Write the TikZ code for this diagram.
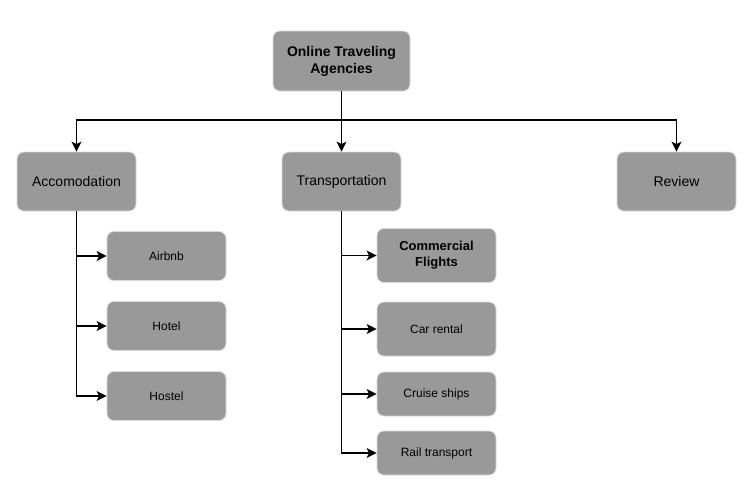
\documentclass[tikz,border=0pt]{standalone}
\usepackage{fontspec}
\setmainfont{Liberation Sans}
\usetikzlibrary{arrows.meta}
\begin{document}
\begin{tikzpicture}[x=1pt,y=-1pt,
  box/.style={draw=black!15,line width=0.8pt,fill=black!40,rounded corners=7pt,align=center,inner sep=0pt,text=black},
  big/.style={box,minimum width=119pt,minimum height=59pt,font=\fontsize{14}{16}\selectfont},
  small/.style={box,minimum width=119pt,font=\fontsize{12}{14}\selectfont},
  conn/.style={line width=1.8pt,-{Stealth[length=10pt,width=10pt,inset=2.5pt]}},
  line/.style={line width=1.8pt}]
\useasboundingbox (0,0) rectangle (748,496);
\node[big,minimum width=137pt,minimum height=60pt,font=\bfseries\fontsize{14}{17}\selectfont] (ota) at (341.5,61) {Online Traveling\\Agencies};
\path (ota.north) ++(0,-1) coordinate (otaN);
\node[big] (acc) at (76.5,181.5) {Accomodation};
\node[big] (tra) at (341.5,181.5) {Transportation};
\node[big] (rev) at (676.5,181.5) {Review};
\node[small,minimum height=49pt] (air) at (166.5,256) {Airbnb};
\node[small,minimum height=49pt] (hot) at (166.5,326) {Hotel};
\node[small,minimum height=49pt] (hos) at (166.5,396) {Hostel};
\node[small,minimum height=54pt,font=\bfseries\fontsize{13}{16}\selectfont] (com) at (436.5,255.5) {Commercial\\Flights};
\node[small,minimum height=54pt] (car) at (436.5,329) {Car rental};
\node[small,minimum height=44pt] (cru) at (436.5,394) {Cruise ships};
\node[small,minimum height=44pt] (rai) at (436.5,453) {Rail transport};
\coordinate (bar) at (341.5,120);
\draw[line] (ota.south) -- (bar);
\draw[conn] (bar) -| (acc.north);
\draw[conn] (bar) -| (rev.north);
\draw[conn] (ota.south) -- (tra.north);
\draw[conn] (acc.south) |- (air.west);
\draw[conn] (acc.south) |- (hot.west);
\draw[conn] (acc.south) |- (hos.west);
\draw[conn] (tra.south) |- (com.west);
\draw[conn] (tra.south) |- (car.west);
\draw[conn] (tra.south) |- (cru.west);
\draw[conn] (tra.south) |- (rai.west);
\end{tikzpicture}
\end{document}
